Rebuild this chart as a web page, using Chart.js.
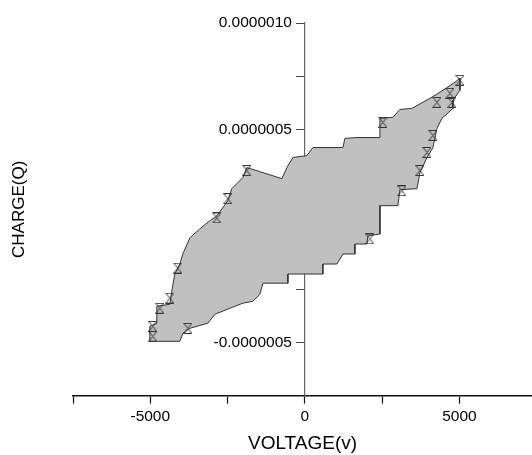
<!DOCTYPE html>
<html lang="en">
<head>
  <meta charset="UTF-8" />
  <title>Charge vs Voltage loop</title>
  <script src="https://cdn.jsdelivr.net/npm/chart.js@4.4.1/dist/chart.umd.min.js"></script>
  <style>
    html, body { margin: 0; padding: 0; background: #ffffff; overflow: hidden; }
    #wrap { width: 532px; height: 455px; }
    canvas { display: block; }
  </style>
</head>
<body>
  <div id="wrap"><canvas id="loopChart" width="532" height="455"></canvas></div>
  <script>
    // loop outline (voltage in V, charge in C)
    const voltage = [-5016, -5016, -4789, -4789, -4369, -4304, -4207, -4045, -3948, -3721,
      -3398, -3074, -2848, -2492, -2362, -2006, -1877, -744, -582, -388,
      65, 259, 1230, 1294, 1683, 2427, 2427, 2848, 3074, 3463,
      4045, 4466, 4854, 5016, 5016, 4789, 4789, 4433, 4272, 4142,
      3948, 3721, 3624, 3074, 3009, 2427, 2427, 2039, 2006, 1618,
      1618, 1230, 1036, 582, 582, -550, -550, -1359, -1456, -1683,
      -2006, -2427, -2912, -3139, -3721, -3948, -4045, -5016];
    const charge = [-4.95e-7, -4.25e-7, -4.10e-7, -3.30e-7, -3.21e-7, -2.59e-7, -1.79e-7, -1.32e-7, -0.85e-7, -0.09e-7,
      0.33e-7, 0.71e-7, 0.94e-7, 1.65e-7, 2.22e-7, 2.74e-7, 3.21e-7, 2.69e-7, 3.21e-7, 3.68e-7,
      3.77e-7, 4.15e-7, 4.15e-7, 4.58e-7, 4.62e-7, 4.62e-7, 5.52e-7, 5.57e-7, 5.94e-7, 5.99e-7,
      6.46e-7, 6.84e-7, 7.22e-7, 7.41e-7, 6.84e-7, 6.37e-7, 5.99e-7, 5.52e-7, 5.05e-7, 4.15e-7,
      3.68e-7, 2.97e-7, 2.22e-7, 2.17e-7, 1.42e-7, 1.42e-7, 0.09e-7, 0, -0.38e-7, -0.38e-7,
      -0.85e-7, -0.85e-7, -1.32e-7, -1.32e-7, -1.79e-7, -1.79e-7, -2.22e-7, -2.22e-7, -2.74e-7, -3.07e-7,
      -3.16e-7, -3.40e-7, -3.68e-7, -4.10e-7, -4.34e-7, -4.58e-7, -4.95e-7, -4.95e-7];

    // visible sample markers along the edge
    const markerV = [-4919, -4919, -4692, -4369, -4110, -3786, -2848, -2492, -1877, 2103,
      2524, 3139, 3721, 3948, 4142, 4272, 4692, 4757, 5016];
    const markerQ = [-4.25e-7, -4.72e-7, -3.40e-7, -2.92e-7, -1.51e-7, -4.34e-7, 0.85e-7, 1.75e-7, 3.07e-7, -0.14e-7,
      5.33e-7, 2.12e-7, 3.07e-7, 3.92e-7, 4.72e-7, 6.27e-7, 6.70e-7, 6.27e-7, 7.31e-7];

    const xTicks = [-7500, -5000, -2500, 0, 2500, 5000];
    const xLabeled = [-5000, 0, 5000];
    const yTicks = [-7.5e-7, -5e-7, -2.5e-7, 0, 2.5e-7, 5e-7, 7.5e-7, 1e-6];
    const yLabeled = [-5e-7, 5e-7, 1e-6];

    const loopPts = voltage.map((v, i) => ({ x: v, y: charge[i] }));
    const markPts = markerV.map((v, i) => ({ x: v, y: markerQ[i] }));

    // hourglass marker like the original plot symbol
    const glass = document.createElement('canvas');
    glass.width = 9; glass.height = 11;
    const g = glass.getContext('2d');
    g.strokeStyle = '#333';
    g.lineWidth = 1;
    g.beginPath();
    g.moveTo(0.5, 0.5); g.lineTo(8.5, 0.5); g.lineTo(0.5, 10.5); g.lineTo(8.5, 10.5);
    g.closePath();
    g.stroke();

    const font = { family: "'Liberation Sans', Arial, sans-serif", size: 15.5 };

    const ctx = document.getElementById("loopChart").getContext("2d");
    new Chart(ctx, {
      type: 'scatter',
      data: {
        datasets: [
          {
            data: markPts, order: 0, pointStyle: glass, pointRadius: 5
          },
          {
            data: loopPts, order: 1, showLine: true, fill: 'shape', tension: 0,
            pointRadius: 0, borderColor: '#333', borderWidth: 1,
            backgroundColor: '#c0c0c0'
          }
        ]
      },
      options: {
        responsive: false,
        animation: false,
        layout: { autoPadding: false, padding: { top: 23, left: 0, right: 0, bottom: 0 } },
        plugins: { legend: { display: false }, tooltip: { enabled: false } },
        scales: {
          x: {
            type: 'linear', position: 'bottom', min: -7500, max: 7346,
            afterBuildTicks: (axis) => { axis.ticks = xTicks.map(v => ({ value: v })); },
            ticks: {
              font: font, color: '#000', padding: 4, maxRotation: 0,
              callback: (v) => xLabeled.includes(v) ? String(v) : ''
            },
            grid: { drawOnChartArea: false, drawTicks: true, tickLength: 8, tickColor: '#111', tickWidth: 1.2 },
            border: { display: true, color: '#111', width: 1.5 },
            title: {
              display: true, text: 'VOLTAGE(v)', color: '#000',
              font: { family: font.family, size: 19 }, padding: { top: 2, bottom: 0 }
            }
          },
          y: {
            type: 'linear', position: { x: 0 }, min: -7.5e-7, max: 1e-6,
            afterBuildTicks: (axis) => { axis.ticks = yTicks.map(v => ({ value: v })); },
            ticks: {
              font: font, color: '#000',
              // trailing spaces keep the label clear of the tick mark
              callback: (v) => yLabeled.includes(v) ? v.toFixed(7) + '   ' : ''
            },
            grid: { drawOnChartArea: false, drawTicks: true, tickLength: 8, tickColor: '#444', tickWidth: 1 },
            border: { display: true, color: '#666', width: 1.2 }
          },
          yTitle: {
            type: 'linear', position: 'left', min: 0, max: 1,
            ticks: { display: false },
            grid: { display: false },
            border: { display: false },
            afterFit: (axis) => { axis.width = 73; },
            title: {
              display: true, text: 'CHARGE(Q)', color: '#000',
              font: { family: font.family, size: 17 }, padding: { top: 9, bottom: 0 }
            }
          }
        }
      }
    });
  </script>
</body>
</html>
